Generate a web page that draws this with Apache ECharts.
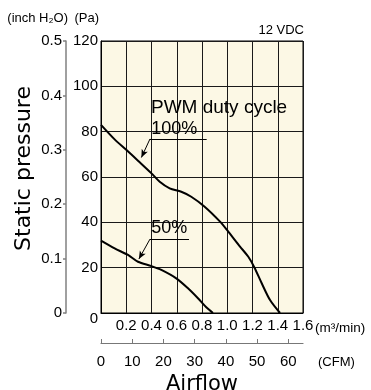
<!DOCTYPE html>
<html><head><meta charset="utf-8">
<script src="https://cdn.jsdelivr.net/npm/echarts@6/dist/echarts.min.js"></script>
<style>html,body{margin:0;padding:0;background:#fff}#c{width:371px;height:390px}</style>
</head><body><div id="c"></div>
<script>
// axis ticks
const flowTicks = [0.2, 0.4, 0.6, 0.8, 1.0, 1.2, 1.4, 1.6];
const paTicks = [0, 20, 40, 60, 80, 100, 120];
const inchTicks = [0, 0.1, 0.2, 0.3, 0.4, 0.5];
const cfmTicks = [0, 10, 20, 30, 40, 50, 60];
// PWM 100% curve (m3/min, Pa)
const duty100Flow = [0, 0.108, 0.2, 0.293, 0.4, 0.465, 0.544, 0.636, 0.715, 0.821, 0.943, 1.008, 1.101, 1.167, 1.214, 1.273, 1.339, 1.418];
const duty100Pa   = [83.0, 76.6, 72.0, 67.2, 61.6, 57.9, 55.0, 53.5, 51.3, 46.9, 40.3, 35.9, 29.3, 24.8, 20.2, 13.1, 5.7, 0];
// PWM 50% curve
const duty50Flow = [0, 0.108, 0.214, 0.293, 0.4, 0.478, 0.596, 0.689, 0.768, 0.834, 0.887];
const duty50Pa   = [31.9, 28.5, 25.6, 22.6, 20.7, 19.0, 15.3, 10.9, 6.5, 2.5, 0];
// annotation anchors (data coords)
const under100 = [[0.388, 76.8], [0.837, 76.8]];
const arrow100 = [[0.388, 76.8], [0.32, 68.6]];
const under50 = [[0.388, 32.6], [0.697, 32.6]];
const arrow50 = [[0.388, 32.6], [0.30, 23.8]];
const titleAnchor = [0.396, 90.4];
const label100Anchor = [0.398, 81.0];
const label50Anchor = [0.398, 37.4];

const NARROW = "'Liberation Sans', Arial, sans-serif";
const SANS = "'Liberation Sans', Arial, sans-serif";
const WIDE = "'DejaVu Sans', sans-serif";
const zip = (a, b) => a.map((v, i) => [v, b[i]]);
const seg = (p) => [{coord: p[0], symbol: 'none'}, {coord: p[1], symbol: 'none'}];
const arr = (p) => [{coord: p[0], symbol: 'none'}, {coord: p[1], symbol: 'arrow', symbolSize: [5, 8]}];

const chart = echarts.init(document.getElementById('c'), null, {renderer: 'canvas'});
const lblBase = {color: '#000', fontFamily: NARROW, fontSize: 15};
chart.setOption({
  animation: false,
  backgroundColor: '#fff',
  grid: {left: 101, top: 41, width: 202, height: 272, show: true, outerBoundsMode: 'none', containLabel: false,
    backgroundColor: '#FCF8E5', borderColor: '#000', borderWidth: 1},
  xAxis: [{
    type: 'value', min: 0, max: 1.6, interval: 0.2,
    axisLine: {show: true, onZero: false, lineStyle: {color: '#000'}},
    axisTick: {show: false},
    splitLine: {show: true, lineStyle: {color: '#1a1a1a', width: 1}},
    axisLabel: Object.assign({customValues: flowTicks, margin: 5, formatter: v => v.toFixed(1)}, lblBase)
  }, {
    type: 'value', position: 'bottom', offset: 30, min: 0, max: 64.7,
    axisLine: {show: true, onZero: false, lineStyle: {color: '#777', width: 1.2}},
    axisTick: {show: true, inside: true, length: 4, customValues: cfmTicks, lineStyle: {color: '#777'}},
    splitLine: {show: false},
    axisLabel: Object.assign({customValues: cfmTicks, margin: 11}, lblBase),
    name: 'Airflow', nameLocation: 'middle', nameGap: 25,
    nameTextStyle: {color: '#000', fontFamily: WIDE, fontSize: 21}
  }],
  yAxis: [{
    type: 'value', min: 0, max: 120, interval: 20, position: 'left',
    axisLine: {show: true, onZero: false, lineStyle: {color: '#000'}},
    axisTick: {show: false},
    splitLine: {show: true, lineStyle: {color: '#1a1a1a', width: 1}},
    axisLabel: Object.assign({customValues: paTicks, margin: 3,
      formatter: v => v === 0 ? '{z|0}' : String(v),
      rich: {z: {padding: [11, 0, 0, 0], color: '#000', fontFamily: NARROW, fontSize: 15}}}, lblBase)
  }, {
    type: 'value', min: 0, max: 0.5, interval: 0.1, position: 'left', offset: 35,
    axisLine: {show: true, onZero: false, lineStyle: {color: '#808080', width: 1.5}},
    axisTick: {show: true, length: 3, customValues: inchTicks, lineStyle: {color: '#808080', width: 1.5}},
    splitLine: {show: false},
    axisLabel: Object.assign({customValues: inchTicks, margin: 4, formatter: v => v === 0 ? '0' : v.toFixed(1)}, lblBase)
  }],
  series: [{
    type: 'line', name: '100%', data: zip(duty100Flow, duty100Pa), showSymbol: false, smooth: 0.3,
    lineStyle: {color: '#000', width: 2},
    markLine: {silent: true, lineStyle: {color: '#000', width: 1, type: 'solid'}, label: {show: false},
      data: [seg(under100), arr(arrow100)]}
  }, {
    type: 'line', name: '50%', data: zip(duty50Flow, duty50Pa), showSymbol: false, smooth: 0.3,
    lineStyle: {color: '#000', width: 2},
    markLine: {silent: true, lineStyle: {color: '#000', width: 1, type: 'solid'}, label: {show: false},
      data: [seg(under50), arr(arrow50)]}
  }]
});

const px = (p) => chart.convertToPixel({xAxisIndex: 0, yAxisIndex: 0}, p);
const t1 = px(titleAnchor), t2 = px(label100Anchor), t3 = px(label50Anchor);
const txt = (x, y, text, size, align, font, extra) => Object.assign({type: 'text', x: x, y: y,
  style: {text: text, fill: '#000', font: size + 'px ' + font, align: align, verticalAlign: 'middle'}}, extra || {});
chart.setOption({
  graphic: [
    txt(t1[0], t1[1], 'PWM duty cycle', 19, 'left', SANS),
    txt(t2[0], t2[1], '100%', 18, 'left', SANS),
    txt(t3[0], t3[1], '50%', 18, 'left', SANS),
    txt(68, 18, '(inch H₂O)', 13, 'right', SANS),
    txt(99, 18, '(Pa)', 13, 'right', SANS),
    txt(304, 30, '12 VDC', 13, 'right', SANS),
    txt(315, 328, '(m³/min)', 13.5, 'left', SANS),
    txt(318, 362, '(CFM)', 13, 'left', SANS),
    txt(24.5, 168.5, 'Static pressure', 22, 'center', WIDE, {rotation: Math.PI / 2})
  ]
});
</script></body></html>
